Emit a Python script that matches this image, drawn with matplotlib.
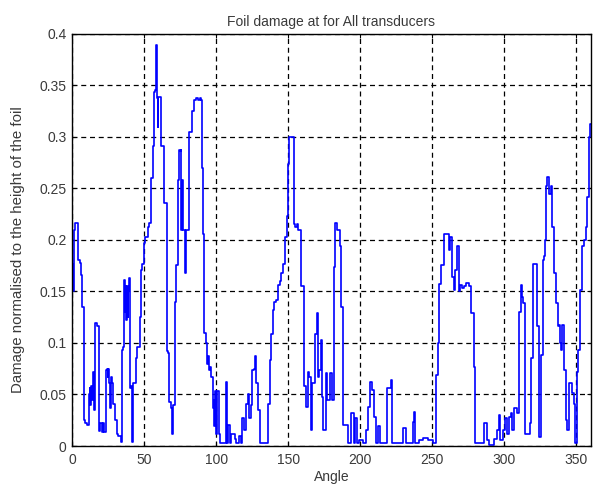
import matplotlib
matplotlib.use('Agg')
import matplotlib.pyplot as plt

# angle (deg) and damage values
angle = [0, 0.5, 1, 2, 2.5, 4, 5, 6, 6.5, 7.5, 8.5, 9.5, 11, 12, 12.5, 13, 13.5, 14, 15, 15.8,
         16.5, 18, 19, 20, 21, 22, 23, 23.7, 24.5, 25, 25.5, 26, 26.5, 27, 28, 28.5, 29.5, 30.5,
         31.5, 33, 34.5, 35, 35.7, 36.2, 36.8, 37.3, 37.8, 38.3, 38.8, 39.3, 39.8, 40.2, 40.6,
         41.5, 42, 42.6, 43.9, 44.5, 45.5, 46.6, 47.3, 48.3, 49.2, 50.3, 51.5, 53.3, 54, 55.4,
         56.6, 57.2, 57.8, 58.7, 59, 59.4, 59.8, 60.2, 61.3, 61.6, 62.4, 63.5, 64.7, 65.4, 65.9,
         67, 67.3, 68.3, 68.8, 69.6, 70.5, 71.5, 71.9, 72.8, 73.3, 73.8, 74.4, 75.2, 75.6, 76.1,
         76.5, 76.9, 78, 78.7, 79.4, 80.3, 81.7, 82.6, 84, 84.9, 87, 88, 89.4, 90, 91, 91.4,
         91.9, 93.7, 94.3, 94.8, 95.5, 96.1, 96.7, 97.3, 97.9, 98.6, 99, 99.8, 100.3, 101,
         101.6, 102.2, 102.6, 106.5, 107.2, 108.1, 108.8, 110, 111.1, 113, 113.5, 114.6, 116.9,
         117.8, 118.8, 119.7, 121.6, 122.7, 123.4, 124.4, 125.8, 126.5, 127.4, 128.1, 129.7,
         130.9, 135.5, 136.7, 137.8, 138.9, 139.9, 141, 142.4, 143.5, 144.5, 145.3, 147.1,
         148.3, 149.4, 150.1, 151.3, 153.4, 154, 155.5, 156.5, 157.5, 159.9, 161.5, 162.9,
         164.3, 165.2, 166.1, 167, 168, 169.2, 170.3, 171.2, 172.2, 173.1, 174, 175, 176.8,
         177.7, 180, 181, 181.9, 182.6, 185.6, 186.5, 187, 188.4, 191.2, 192.4, 195.4, 196,
         196.8, 198.1, 200, 200.5, 203, 205.1, 206.2, 207.9, 208.8, 209.7, 211.6, 213.2, 214.5,
         216.2, 220.4, 221.8, 222.5, 229.5, 229.9, 231.2, 231.8, 236.4, 236.8, 238, 238.3,
         242.7, 245, 249.2, 251.5, 253.8, 254.3, 255, 257.3, 259.6, 261, 262, 263, 264.3,
         265.5, 266.6, 267.7, 268.9, 270, 271.2, 272.4, 275, 275.9, 278.2, 279.4, 280.5, 285.5,
         285.8, 287, 288.2, 291, 294.4, 295.5, 296.7, 297.7, 300.2, 301.2, 302.3, 303.7, 304.8,
         306, 307.7, 309.5, 310.7, 311.8, 312.4, 313.7, 314.6, 317.6, 318.3, 319.3, 320, 322.3,
         323.4, 324.1, 325.3, 326.2, 326.9, 328, 328.5, 329.2, 330.4, 331.5, 332.7, 333.8, 335,
         336.8, 337.8, 338.5, 339.2, 339.7, 340.8, 342, 343.1, 343.8, 345.5, 347.8, 348.9,
         349.6, 350.8, 351.7, 353.1, 354, 355.9, 357, 358.2, 359.3, 360]
damage = [0.12, 0.177, 0.15, 0.21, 0.216, 0.216, 0.181, 0.178, 0.166, 0.135, 0.025, 0.022, 0.020,
          0.05, 0.056, 0.04, 0.058, 0.045, 0.072, 0.035, 0.119, 0.116, 0.015, 0.022, 0.014, 0.022,
          0.014, 0.074, 0.075, 0.067, 0.075, 0.061, 0.037, 0.067, 0.061, 0.041, 0.041, 0.025,
          0.012, 0.010, 0.004, 0.093, 0.096, 0.161, 0.13, 0.155, 0.122, 0.155, 0.125, 0.15,
          0.163, 0.125, 0.056, 0.058, 0.004, 0.061, 0.061, 0.085, 0.096, 0.096, 0.125, 0.171,
          0.177, 0.197, 0.203, 0.213, 0.216, 0.260, 0.291, 0.344, 0.346, 0.389, 0.344, 0.338,
          0.31, 0.339, 0.339, 0.325, 0.291, 0.291, 0.236, 0.236, 0.092, 0.090, 0.043, 0.043,
          0.037, 0.012, 0.040, 0.040, 0.140, 0.176, 0.176, 0.258, 0.287, 0.286, 0.287, 0.210,
          0.258, 0.21, 0.21, 0.168, 0.21, 0.21, 0.305, 0.305, 0.325, 0.336, 0.338, 0.336, 0.338,
          0.336, 0.270, 0.206, 0.11, 0.10, 0.08, 0.087, 0.074, 0.077, 0.067, 0.067, 0.037, 0.045,
          0.019, 0.053, 0.012, 0.053, 0.053, 0.012, 0.003, 0.003, 0.062, 0.003, 0.02, 0.003,
          0.012, 0.012, 0.007, 0.003, 0.010, 0.003, 0.027, 0.016, 0.041, 0.05, 0.027, 0.040,
          0.074, 0.075, 0.087, 0.061, 0.035, 0.003, 0.003, 0.041, 0.083, 0.109, 0.132, 0.14,
          0.142, 0.156, 0.16, 0.168, 0.177, 0.203, 0.223, 0.274, 0.300, 0.300, 0.215, 0.213,
          0.215, 0.210, 0.155, 0.058, 0.038, 0.072, 0.067, 0.016, 0.061, 0.061, 0.109, 0.129,
          0.067, 0.074, 0.103, 0.048, 0.016, 0.071, 0.045, 0.071, 0.045, 0.174, 0.216, 0.210,
          0.194, 0.135, 0.020, 0.020, 0.003, 0.032, 0.003, 0.027, 0.003, 0.006, 0.006, 0.003,
          0.016, 0.038, 0.062, 0.054, 0.028, 0.003, 0.019, 0.003, 0.003, 0.056, 0.064, 0.003,
          0.003, 0.017, 0.017, 0.003, 0.003, 0.023, 0.033, 0.003, 0.006, 0.008, 0.006, 0.003,
          0.069, 0.100, 0.157, 0.176, 0.206, 0.206, 0.190, 0.203, 0.164, 0.151, 0.171, 0.194,
          0.150, 0.156, 0.153, 0.155, 0.158, 0.155, 0.129, 0.077, 0.003, 0.003, 0.022, 0.022,
          0.006, 0.001, 0.007, 0.016, 0.030, 0.006, 0.016, 0.027, 0.012, 0.028, 0.032, 0.016,
          0.037, 0.032, 0.130, 0.156, 0.145, 0.139, 0.012, 0.012, 0.022, 0.085, 0.177, 0.177,
          0.116, 0.009, 0.009, 0.088, 0.181, 0.184, 0.200, 0.252, 0.261, 0.245, 0.252, 0.213,
          0.168, 0.139, 0.116, 0.117, 0.100, 0.093, 0.117, 0.074, 0.025, 0.016, 0.061, 0.051,
          0.041, 0.003, 0.072, 0.093, 0.151, 0.194, 0.200, 0.213, 0.242, 0.300, 0.313]

x_ticks = [0, 50, 100, 150, 200, 250, 300, 350]
y_ticks = [0, 0.05, 0.1, 0.15, 0.2, 0.25, 0.3, 0.35, 0.4]
y_labels = ['0', '0.05', '0.1', '0.15', '0.2', '0.25', '0.3', '0.35', '0.4']

plt.rcParams['font.family'] = ['Liberation Sans', 'DejaVu Sans']
txt = '#3a3a3a'

fig = plt.figure(figsize=(5.94, 4.86), dpi=100)
ax = fig.add_axes([0.1212, 0.0823, 0.8735, 0.848])
# staircase look like the original trace
ax.plot(angle, damage, color='#0000ff', linewidth=1.2, drawstyle='steps-mid')

ax.set_xlim(0, 360)
ax.set_ylim(0, 0.4)
ax.set_xticks(x_ticks)
ax.set_yticks(y_ticks)
ax.set_yticklabels(y_labels)
ax.grid(True, color='black', linestyle=(0, (4, 3)), linewidth=0.9)
ax.tick_params(direction='in', length=3, labelsize=10, colors='black', labelcolor=txt,
               top=True, right=True)
ax.tick_params(axis='x', pad=5)
ax.tick_params(axis='y', pad=4)
for s in ax.spines.values():
    s.set_linewidth(1.0)

ax.set_title('Foil damage at for All transducers', fontsize=10, color=txt, pad=6)
ax.set_xlabel('Angle', fontsize=10, color=txt, labelpad=2)
ax.set_ylabel('Damage normalised to the height of the foil', fontsize=10.8, color=txt)
ax.yaxis.set_label_coords(-0.091, 0.476)

fig.savefig('out.png', dpi=100)
